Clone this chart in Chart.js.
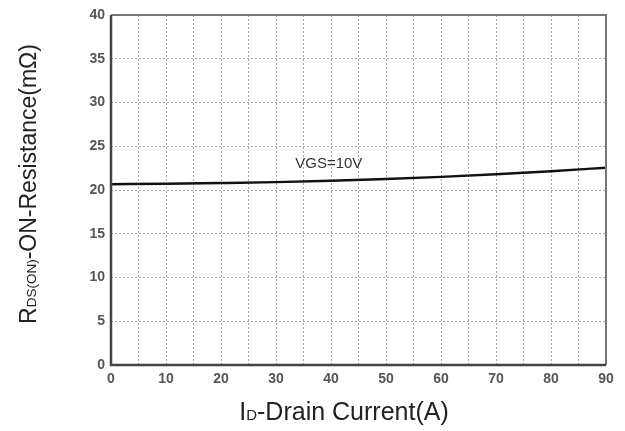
<!DOCTYPE html>
<html>
<head>
<meta charset="utf-8">
<script src="https://cdn.jsdelivr.net/npm/chart.js@4/dist/chart.umd.min.js"></script>
<style>
  html,body{margin:0;padding:0;background:#fff;}
  #wrap{width:625px;height:431px;position:relative;}
</style>
</head>
<body>
<div id="wrap"><canvas id="c" width="625" height="431"></canvas></div>
<script>
const currentA = [0, 10, 20, 30, 40, 50, 60, 70, 80, 90];
const rdsOnMOhm = [20.65, 20.72, 20.8, 20.9, 21.05, 21.25, 21.5, 21.8, 22.15, 22.55];
const seriesLabel = 'VGS=10V';
const xTickLabels = [0, 10, 20, 30, 40, 50, 60, 70, 80, 90];
const yTickLabels = [0, 5, 10, 15, 20, 25, 30, 35, 40];

const FONT = '"Liberation Sans", Arial, sans-serif';

const decorPlugin = {
  id: 'decor',
  afterDatasetsDraw(chart) {
    const {ctx, chartArea: a, scales} = chart;
    ctx.save();
    // frame top/right
    ctx.strokeStyle = '#777';
    ctx.lineWidth = 2;
    ctx.beginPath();
    ctx.moveTo(a.left, a.top);
    ctx.lineTo(a.right, a.top);
    ctx.lineTo(a.right, a.bottom);
    ctx.stroke();
    // frame left/bottom
    ctx.strokeStyle = '#444';
    ctx.lineWidth = 2.5;
    ctx.beginPath();
    ctx.moveTo(a.left, a.top);
    ctx.lineTo(a.left, a.bottom);
    ctx.lineTo(a.right, a.bottom);
    ctx.stroke();
    // series label
    ctx.fillStyle = '#333';
    ctx.font = '15px ' + FONT;
    ctx.textAlign = 'left';
    ctx.textBaseline = 'middle';
    ctx.fillText(seriesLabel, scales.x.getPixelForValue(33.5), scales.y.getPixelForValue(23.0));
    ctx.restore();
  },
  afterDraw(chart) {
    const {ctx} = chart;
    ctx.save();
    ctx.fillStyle = '#222';
    ctx.textBaseline = 'alphabetic';
    ctx.textAlign = 'left';
    // x title: I_D-Drain Current(A)
    const xbig = '25px ' + FONT, xsmall = '15px ' + FONT;
    const parts = [['I', xbig], ['D', xsmall], ['-Drain Current(A)', xbig]];
    let total = 0;
    parts.forEach(p => { ctx.font = p[1]; total += ctx.measureText(p[0]).width; });
    let x = 344 - total / 2;
    const yb = 420;
    parts.forEach(p => { ctx.font = p[1]; ctx.fillText(p[0], x, yb); x += ctx.measureText(p[0]).width; });
    // y title rotated
    const ybig = '23px ' + FONT, ysmall = '13.5px ' + FONT;
    ctx.translate(36, 184);
    ctx.rotate(-Math.PI / 2);
    const yparts = [['R', ybig], ['DS(ON)', ysmall], ['-ON-Resistance(mΩ)', ybig]];
    total = 0;
    yparts.forEach(p => { ctx.font = p[1]; total += ctx.measureText(p[0]).width; });
    x = -total / 2;
    yparts.forEach(p => { ctx.font = p[1]; ctx.fillText(p[0], x, 0); x += ctx.measureText(p[0]).width; });
    ctx.restore();
  }
};

new Chart(document.getElementById('c'), {
  type: 'line',
  data: {
    datasets: [{
      label: seriesLabel,
      data: currentA.map((v, i) => ({x: v, y: rdsOnMOhm[i]})),
      borderColor: '#111',
      borderWidth: 2.5,
      pointRadius: 0,
      cubicInterpolationMode: 'monotone',
      fill: false
    }]
  },
  options: {
    responsive: false,
    animation: false,
    devicePixelRatio: 1,
    layout: {padding: {top: 15, right: 19, left: 0, bottom: 0}},
    plugins: {legend: {display: false}, tooltip: {enabled: false}},
    scales: {
      x: {
        type: 'linear',
        min: 0, max: 90,
        afterFit(s) { s.height = 66; },
        border: {display: false, dash: [2, 2]},
        grid: {color: '#aaa', lineWidth: 1, drawTicks: false},
        ticks: {
          stepSize: 5, autoSkip: false, padding: 6,
          color: '#555', font: {family: FONT, size: 14, weight: 'bold'},
          callback: v => xTickLabels.includes(v) ? String(v) : ''
        }
      },
      y: {
        min: 0, max: 40,
        afterFit(s) { s.width = 111; },
        border: {display: false, dash: [2, 2]},
        grid: {color: '#aaa', lineWidth: 1, drawTicks: false},
        ticks: {
          stepSize: 5, padding: 6,
          color: '#555', font: {family: FONT, size: 14, weight: 'bold'},
          callback: v => yTickLabels.includes(v) ? String(v) : ''
        }
      }
    }
  },
  plugins: [decorPlugin]
});
</script>
</body>
</html>
